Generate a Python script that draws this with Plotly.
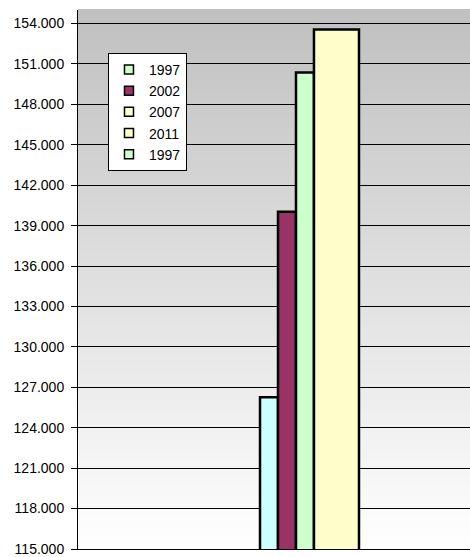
import plotly.graph_objects as go

# ---- data ----
category = ["Total"]
bar_names = ["1997", "2002", "2007", "2011"]
bar_values = [126260, 140030, 150360, 153560]
bar_colors = ["#CCFFFF", "#993366", "#CCFFCC", "#FFFFCC"]

legend_names = ["1997", "2002", "2007", "2011", "1997"]
legend_colors = ["#CCFFCC", "#993366", "#FFFFCC", "#FFFFCC", "#CCFFCC"]

y_min, y_max, y_step = 115000, 155000, 3000

# ---- styling (positions within the single category) ----
bar_offsets = [-0.0357, 0.0102, 0.0561, 0.102]
bar_widths = [0.0459, 0.0459, 0.0459, 0.1148]

fig = go.Figure()
for name, val, col, off, w in zip(bar_names, bar_values, bar_colors, bar_offsets, bar_widths):
    fig.add_trace(go.Bar(
        x=category, y=[val], name=name, offset=off, width=w,
        marker=dict(color=col, line=dict(color="#000000", width=2.5)),
        showlegend=False,
    ))

for name, col in zip(legend_names, legend_colors):
    fig.add_trace(go.Scatter(
        x=[None], y=[None], mode="markers", name=name,
        marker=dict(symbol="square", size=9, color=col,
                    line=dict(color="#000000", width=1.5)),
    ))

# gradient background (gray top -> white bottom)
n = 120
shapes = []
for i in range(n):
    f = (i + 0.5) / n  # 0 bottom -> 1 top
    v = int(round(255 - (255 - 192) * f))
    shapes.append(dict(type="rect", xref="paper", yref="paper",
                       x0=0, x1=1, y0=i / n, y1=(i + 1) / n + 0.002,
                       fillcolor=f"rgb({v},{v},{v})", line=dict(width=0),
                       layer="below"))

fig.update_layout(
    width=470, height=557,
    margin=dict(l=78, r=0, t=10, b=6),
    paper_bgcolor="#FFFFFF",
    plot_bgcolor="rgba(0,0,0,0)",
    barmode="overlay",
    separators=",.",
    shapes=shapes,
    font=dict(family="Liberation Sans, Arial, sans-serif", size=14, color="#000000"),
    showlegend=True,
    legend=dict(x=0.0765, y=0.9205, xanchor="left", yanchor="top",
                bgcolor="#FFFFFF", bordercolor="#000000", borderwidth=1,
                font=dict(size=14), itemwidth=30),
    xaxis=dict(range=[-0.5, 0.5], showticklabels=False, showgrid=False,
               showline=True, linecolor="#000000", linewidth=1,
               ticks="", zeroline=False, fixedrange=True),
    yaxis=dict(range=[y_min, y_max], tick0=y_min, dtick=y_step,
               tickformat=",d", showgrid=True, gridcolor="#000000", gridwidth=1,
               showline=True, linecolor="#000000", linewidth=1,
               ticks="outside", ticklen=6, tickcolor="#000000",
               ticklabelstandoff=4, zeroline=False,
               ticklabeloverflow="allow",
               tickfont=dict(size=14)),
)

fig.write_html(
    "out.html",
    config={"displayModeBar": False},
    post_script="document.body.style.margin='0';document.body.style.padding='0';"
                "document.documentElement.style.overflow='hidden';",
)
